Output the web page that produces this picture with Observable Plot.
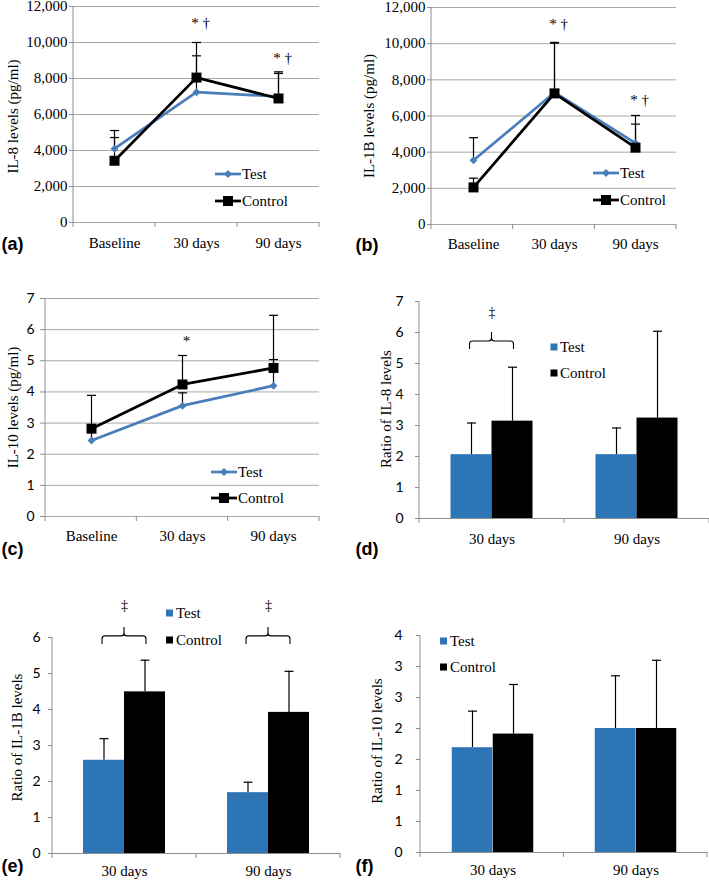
<!DOCTYPE html>
<html><head><meta charset="utf-8">
<script src="https://cdn.jsdelivr.net/npm/d3@7"></script>
<script src="https://cdn.jsdelivr.net/npm/@observablehq/plot@0.6"></script>
<style>
body{margin:0;background:#fff;}
#fig{position:relative;width:709px;height:880px;background:#fff;overflow:hidden;}
.cell{position:absolute;}
.cell svg{display:block;overflow:visible;}
</style></head>
<body><div id="fig"></div>
<script>
// ---------- data ----------
const timepoints = ["Baseline", "30 days", "90 days"];
const ratioTimepoints = ["30 days", "90 days"];
const seriesNames = ["Test", "Control"];

// (a) IL-8 levels (pg/ml)
const il8Test = [4100, 7240, 7000];
const il8TestSD = [1010, 2020, 1280];
const il8Control = [3430, 8050, 6890];
const il8ControlSD = [1290, 1950, 1480];

// (b) IL-1B levels (pg/ml)
const il1bTest = [3550, 7300, 4500];
const il1bTestSD = [1250, 2730, 1530];
const il1bControl = [2050, 7250, 4250];
const il1bControlSD = [510, 2820, 1300];

// (c) IL-10 levels (pg/ml)
const il10Test = [2.44, 3.56, 4.20];
const il10TestSD = [0.35, 0.41, 0.84];
const il10Control = [2.82, 4.24, 4.77];
const il10ControlSD = [1.07, 0.93, 1.69];

// (d) ratio of IL-8 levels
const rIl8Test = [2.06, 2.06];
const rIl8TestSD = [1.02, 0.86];
const rIl8Control = [3.14, 3.24];
const rIl8ControlSD = [1.74, 2.80];

// (e) ratio of IL-1B levels
const rIl1bTest = [2.59, 1.69];
const rIl1bTestSD = [0.60, 0.29];
const rIl1bControl = [4.49, 3.92];
const rIl1bControlSD = [0.88, 1.14];

// (f) ratio of IL-10 levels
const rIl10Test = [1.69, 2.00];
const rIl10TestSD = [0.59, 0.85];
const rIl10Control = [1.91, 2.00];
const rIl10ControlSD = [0.80, 1.10];

// tick values / labels
const ticksPg = [0, 2000, 4000, 6000, 8000, 10000, 12000];
const ticksIl10 = [0, 1, 2, 3, 4, 5, 6, 7];
const ticksRatioIl8 = [0, 1, 2, 3, 4, 5, 6, 7];
const ticksRatioIl1b = [0, 1, 2, 3, 4, 5, 6];
const ticksRatioIl10 = [0, 0.5, 1, 1.5, 2, 2.5, 3, 3.5];
const ticksRatioIl10Labels = ["0", "1", "1", "2", "2", "3", "3", "4"];

// significance annotations
const annA = [{t: "30 days", y: 11050, label: "* †"}, {t: "90 days", y: 9150, label: "* †"}];
const annB = [{t: "30 days", y: 11100, label: "* †"}, {t: "90 days", y: 6900, label: "* †"}];
const annC = [{t: "30 days", y: 5.63, label: "*"}];
const annD = [{t: "30 days", y: 6.65, brace: 5.71, label: "‡"}];
const annE = [{t: "30 days", y: 6.89, brace: 6.03, label: "‡"}, {t: "90 days", y: 6.89, brace: 6.03, label: "‡"}];

// ---------- styles ----------
const BLUE = "#4a7ebb";
const BAR_BLUE = "#2e75b6";
const GRID = "#a8a8a8";
const AXIS = "#8e8e8e";
const SERIF = "Liberation Serif";
const SANS = "Lato";

const capSymbol = {draw(ctx, size) { const r = Math.sqrt(size / Math.PI); ctx.moveTo(-r, 0); ctx.lineTo(r, 0); }};

function rowsOf(cats, vals, sds, series) {
  return cats.map((t, i) => ({t, series, value: vals[i], hi: vals[i] + sds[i]}));
}

// left axis line + category boundary ticks
function frameTicks(n) {
  return (index, scales, values, dims) => {
    const {width, height, marginLeft: ml, marginRight: mr, marginTop: mt, marginBottom: mb} = dims;
    const g = d3.create("svg:g").attr("stroke", AXIS).attr("fill", "none");
    const yb = height - mb;
    g.append("line").attr("x1", ml).attr("x2", ml).attr("y1", mt).attr("y2", yb);
    for (let i = 0; i <= n; ++i) {
      const x = ml + i * (width - ml - mr) / n;
      g.append("line").attr("x1", x).attr("x2", x).attr("y1", yb).attr("y2", yb + 5);
    }
    return g.node();
  };
}

function lineLegend(x0, x1, ys) {
  return () => {
    const g = d3.create("svg:g").attr("font-family", SERIF).attr("font-size", 15).attr("text-anchor", "start");
    const spec = [[BLUE, d3.symbolDiamond2, 41], ["black", d3.symbolSquare, 100]];
    seriesNames.forEach((name, i) => {
      const [color, sym, size] = spec[i];
      const y = ys[i];
      g.append("line").attr("x1", x0).attr("x2", x1).attr("y1", y).attr("y2", y)
        .attr("stroke", color).attr("stroke-width", 2.75);
      g.append("path").attr("d", d3.symbol(sym, size)()).attr("fill", color)
        .attr("transform", `translate(${(x0 + x1) / 2},${y})`);
      g.append("text").attr("x", x1 + 1).attr("y", y).attr("dy", "0.35em").attr("fill", "black").text(name);
    });
    return g.node();
  };
}

function barLegend(cx, tx, ys) {
  return () => {
    const g = d3.create("svg:g").attr("font-family", SERIF).attr("font-size", 15).attr("text-anchor", "start");
    const colors = [BAR_BLUE, "black"];
    seriesNames.forEach((name, i) => {
      const y = ys[i];
      g.append("rect").attr("x", cx - 3.5).attr("y", y - 3.5).attr("width", 7).attr("height", 7).attr("fill", colors[i]);
      g.append("text").attr("x", tx).attr("y", y).attr("dy", "0.35em").attr("fill", "black").text(name);
    });
    return g.node();
  };
}

function braces(data, hw) {
  return (index, scales) => {
    const x = scales.x, y = scales.y;
    const bw = x.bandwidth ? x.bandwidth() : 0;
    const g = d3.create("svg:g").attr("stroke", "black").attr("fill", "none").attr("stroke-width", 1.1);
    const leg = 8, peak = 9, r = 3;
    for (const d of data) {
      const cx = x(d.t) + bw / 2, y0 = y(d.brace);
      const p = d3.path();
      p.moveTo(cx - hw, y0 + leg); p.lineTo(cx - hw, y0 + r);
      p.quadraticCurveTo(cx - hw, y0, cx - hw + r, y0); p.lineTo(cx - r, y0);
      p.quadraticCurveTo(cx, y0, cx, y0 - r); p.lineTo(cx, y0 - peak);
      p.moveTo(cx, y0 - r); p.quadraticCurveTo(cx, y0, cx + r, y0);
      p.lineTo(cx + hw - r, y0); p.quadraticCurveTo(cx + hw, y0, cx + hw, y0 + r);
      p.lineTo(cx + hw, y0 + leg);
      g.append("path").attr("d", p.toString());
    }
    return g.node();
  };
}

function common(cfg) {
  return [
    Plot.text([cfg.yLabel], {frameAnchor: "left", rotate: -90, dx: cfg.yLabelX - cfg.ml, dy: cfg.yLabelDy || 0,
      text: d => d, fontSize: 15, fontFamily: SERIF, fill: "black", textAnchor: "middle", lineAnchor: "middle"}),
    Plot.text([cfg.letter], {frameAnchor: "bottom-left", dx: 1 - cfg.ml, dy: cfg.letterY - (cfg.height - cfg.mb),
      text: d => d, fontSize: 18, fontWeight: "bold", fontFamily: "Liberation Sans",
      fill: "black", textAnchor: "start", lineAnchor: "middle"})
  ];
}

function linePanel(cfg) {
  const test = rowsOf(cfg.cats, cfg.test, cfg.testSD, seriesNames[0]);
  const control = rowsOf(cfg.cats, cfg.control, cfg.controlSD, seriesNames[1]);
  const all = test.concat(control);
  return Plot.plot({
    width: cfg.width, height: cfg.height,
    marginLeft: cfg.ml, marginRight: cfg.mr, marginTop: cfg.mt, marginBottom: cfg.mb,
    style: {fontFamily: SERIF, fontSize: "15px", background: "transparent", color: "black"},
    x: {type: "point", domain: cfg.cats, padding: 0.5},
    y: {domain: cfg.domain},
    marks: [
      Plot.ruleY(cfg.ticks, {stroke: GRID, strokeWidth: 1}),
      frameTicks(cfg.cats.length),
      Plot.axisY({ticks: cfg.ticks, tickSize: cfg.tickSize, tickPadding: cfg.tickPadding, tickFormat: cfg.tickFormat,
        stroke: AXIS, fill: "black", fontFamily: cfg.tickFont, fontSize: cfg.tickFontSize, label: null}),
      Plot.axisX({tickSize: 0, tickPadding: cfg.xPad, label: null, fontSize: 15, fontFamily: SERIF, fill: "black"}),
      Plot.ruleX(all, {x: "t", y1: "value", y2: "hi", stroke: "black", strokeWidth: 1.2}),
      Plot.dot(all, {x: "t", y: "hi", symbol: capSymbol, r: 4.5, stroke: "black", fill: "none", strokeWidth: 1.2}),
      Plot.line(test, {x: "t", y: "value", stroke: BLUE, strokeWidth: 2.75}),
      Plot.line(control, {x: "t", y: "value", stroke: "black", strokeWidth: 2.75}),
      Plot.dot(test, {x: "t", y: "value", symbol: "diamond2", r: 3.6, fill: BLUE}),
      Plot.dot(control, {x: "t", y: "value", symbol: "square", r: 5.64, fill: "black"}),
      Plot.text(cfg.ann, {x: "t", y: "y", text: "label", dx: 4, fontSize: 15, fontFamily: SERIF, fill: "black"}),
      lineLegend(cfg.legX0, cfg.legX1, cfg.legY),
      ...common(cfg)
    ]
  });
}

function barPanel(cfg) {
  const test = rowsOf(cfg.cats, cfg.test, cfg.testSD, seriesNames[0]);
  const control = rowsOf(cfg.cats, cfg.control, cfg.controlSD, seriesNames[1]);
  const bw = (cfg.width - cfg.ml - cfg.mr) / cfg.cats.length;
  const barW = 41;
  return Plot.plot({
    width: cfg.width, height: cfg.height,
    marginLeft: cfg.ml, marginRight: cfg.mr, marginTop: cfg.mt, marginBottom: cfg.mb,
    style: {fontFamily: SERIF, fontSize: "15px", background: "transparent", color: "black"},
    x: {type: "band", domain: cfg.cats, padding: 0},
    y: {domain: cfg.domain},
    marks: [
      Plot.ruleY([0], {stroke: AXIS}),
      frameTicks(cfg.cats.length),
      Plot.axisY({ticks: cfg.ticks, tickSize: cfg.tickSize, tickPadding: cfg.tickPadding, tickFormat: cfg.tickFormat,
        stroke: AXIS, fill: "black", fontFamily: SANS, fontSize: 14, label: null}),
      Plot.axisX({tickSize: 0, tickPadding: cfg.xPad, label: null, fontSize: 15, fontFamily: SERIF, fill: "black"}),
      Plot.ruleX(test, {x: "t", y1: "value", y2: "hi", dx: -barW / 2, stroke: "black", strokeWidth: 1.2}),
      Plot.dot(test, {x: "t", y: "hi", dx: -barW / 2, symbol: capSymbol, r: 4.5, stroke: "black", fill: "none", strokeWidth: 1.2}),
      Plot.ruleX(control, {x: "t", y1: "value", y2: "hi", dx: barW / 2, stroke: "black", strokeWidth: 1.2}),
      Plot.dot(control, {x: "t", y: "hi", dx: barW / 2, symbol: capSymbol, r: 4.5, stroke: "black", fill: "none", strokeWidth: 1.2}),
      Plot.barY(test, {x: "t", y: "value", fill: BAR_BLUE, insetLeft: bw / 2 - barW, insetRight: bw / 2}),
      Plot.barY(control, {x: "t", y: "value", fill: "black", insetLeft: bw / 2, insetRight: bw / 2 - barW}),
      braces(cfg.ann || [], 22),
      Plot.text(cfg.ann || [], {x: "t", y: "y", text: "label", fontSize: 14, fontFamily: SERIF, fill: "black"}),
      barLegend(cfg.legX, cfg.legTextX, cfg.legY),
      ...common(cfg)
    ]
  });
}

const fmtThousands = d3.format(",");
const panels = [
  {left: 0, top: 0, width: 354, height: 290, ml: 73, mr: 35, mt: 6, mb: 68, kind: "line",
   cats: timepoints, test: il8Test, testSD: il8TestSD, control: il8Control, controlSD: il8ControlSD,
   domain: [0, 12000], ticks: ticksPg, tickFormat: fmtThousands, tickFont: SERIF, tickFontSize: 15, tickSize: 4, tickPadding: 2,
   xPad: 15, ann: annA, legX0: 215, legX1: 241, legY: [174, 201],
   yLabel: "IL-8 levels (pg/ml)", yLabelX: 13, yLabelDy: 2, letter: "(a)", letterY: 244},
  {left: 354, top: 0, width: 355, height: 290, ml: 77, mr: 33, mt: 7, mb: 66, kind: "line",
   cats: timepoints, test: il1bTest, testSD: il1bTestSD, control: il1bControl, controlSD: il1bControlSD,
   domain: [0, 12000], ticks: ticksPg, tickFormat: fmtThousands, tickFont: SERIF, tickFontSize: 15, tickSize: 4, tickPadding: 2,
   xPad: 14, ann: annB, legX0: 239, legX1: 265, legY: [173, 200],
   yLabel: "IL-1B levels (pg/ml)", yLabelX: 15, yLabelDy: 0, letter: "(b)", letterY: 245},
  {left: 0, top: 290, width: 354, height: 290, ml: 45, mr: 35, mt: 8, mb: 64, kind: "line",
   cats: timepoints, test: il10Test, testSD: il10TestSD, control: il10Control, controlSD: il10ControlSD,
   domain: [0, 7], ticks: ticksIl10, tickFormat: d3.format("d"), tickFont: SANS, tickFontSize: 14, tickSize: 5, tickPadding: 6,
   xPad: 14, ann: annC, legX0: 211, legX1: 237, legY: [182, 208],
   yLabel: "IL-10 levels (pg/ml)", yLabelX: 13, yLabelDy: 0, letter: "(c)", letterY: 259},
  {left: 354, top: 290, width: 355, height: 290, ml: 65, mr: 0, mt: 11, mb: 62, kind: "bar",
   cats: ratioTimepoints, test: rIl8Test, testSD: rIl8TestSD, control: rIl8Control, controlSD: rIl8ControlSD,
   domain: [0, 7], ticks: ticksRatioIl8, tickFormat: d3.format("d"), tickSize: 4, tickPadding: 12,
   xPad: 15, ann: annD, legX: 200, legTextX: 206, legY: [57, 83],
   yLabel: "Ratio of IL-8 levels", yLabelX: 32, yLabelDy: -1, letter: "(d)", letterY: 259},
  {left: 0, top: 580, width: 354, height: 300, ml: 52, mr: 14, mt: 57, mb: 27, kind: "bar",
   cats: ratioTimepoints, test: rIl1bTest, testSD: rIl1bTestSD, control: rIl1bControl, controlSD: rIl1bControlSD,
   domain: [0, 6], ticks: ticksRatioIl1b, tickFormat: d3.format("d"), tickSize: 4, tickPadding: 8,
   xPad: 12, ann: annE, legX: 169.5, legTextX: 176, legY: [33, 60],
   yLabel: "Ratio of IL-1B levels", yLabelX: 17, yLabelDy: -8, letter: "(e)", letterY: 286},
  {left: 354, top: 580, width: 355, height: 300, ml: 66, mr: 2, mt: 55, mb: 28, kind: "bar",
   cats: ratioTimepoints, test: rIl10Test, testSD: rIl10TestSD, control: rIl10Control, controlSD: rIl10ControlSD,
   domain: [0, 3.5], ticks: ticksRatioIl10, tickFormat: (d, i) => ticksRatioIl10Labels[i], tickSize: 4, tickPadding: 14,
   xPad: 12, ann: [], legX: 89.5, legTextX: 96, legY: [61, 87],
   yLabel: "Ratio of IL-10 levels", yLabelX: 23, yLabelDy: -3, letter: "(f)", letterY: 286}
];

const fig = document.getElementById("fig");
for (const cfg of panels) {
  const div = document.createElement("div");
  div.className = "cell";
  div.style.left = cfg.left + "px";
  div.style.top = cfg.top + "px";
  div.appendChild(cfg.kind === "line" ? linePanel(cfg) : barPanel(cfg));
  fig.appendChild(div);
}
</script>
</body></html>
